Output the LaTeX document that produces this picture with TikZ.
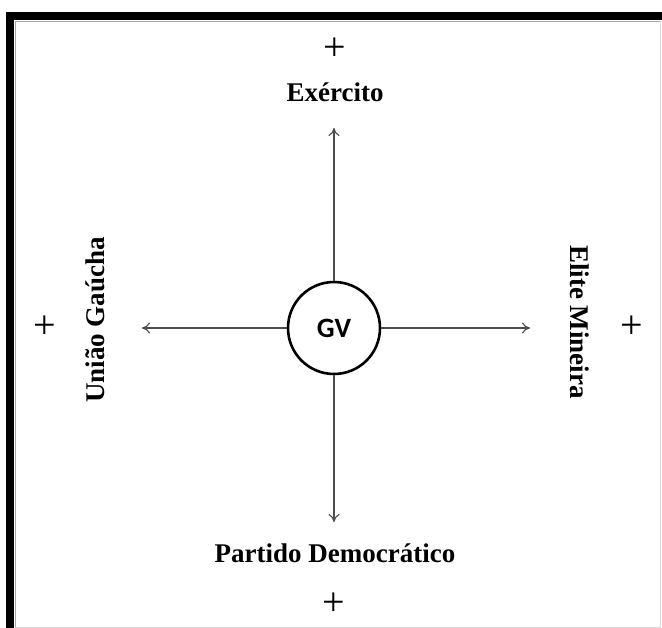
\documentclass[tikz,border=0pt]{standalone}
\usepackage{fontspec}
\setmainfont{Liberation Serif}
\newfontfamily\gvfont{Carlito}
\usetikzlibrary{arrows.meta}
\begin{document}
\begin{tikzpicture}[x=1pt,y=-1pt,
  lbl/.style={font=\fontsize{27}{30}\selectfont\bfseries, inner sep=0pt},
  plus/.style={font=\fontsize{40}{42}\selectfont, inner sep=0pt},
  arr/.style={draw=black!70, line width=1.1pt, -{To[length=8pt,width=11pt]}},
  hub/.style={circle, draw=black, line width=2.6pt, minimum size=92pt, inner sep=0pt,
    font=\gvfont\fontsize{28}{30}\selectfont\bfseries}]
\useasboundingbox (0,0) rectangle (662,628);
\fill[white] (0,0) rectangle (662,628);
% frame
\fill[black] (6,12) rectangle (662,20);
\fill[black] (6,12) rectangle (14,628);
\draw[black!35, line width=0.8pt] (15,21) -- (660,21);
\draw[black!35, line width=0.8pt] (15,21) -- (15,627);
\draw[black!15, line width=0.8pt] (15,627) -- (660,627) -- (660,21);
% hub
\node[hub] (gv) at (334,328) {GV};
\coordinate (tU) at (334,128);
\coordinate (tD) at (334,522);
\coordinate (tL) at (142,328);
\coordinate (tR) at (530,328);
\draw[arr] (gv.north) -- (tU);
\draw[arr] (gv.south) -- (tD);
\draw[arr] (gv.west) -- (tL);
\draw[arr] (gv.east) -- (tR);
% labels
\node[lbl] (ex) at (335,92) {Exército};
\node[lbl] (pd) at (335,553) {Partido Democrático};
\node[lbl, rotate=90] (ug) at (95,320) {União Gaúcha};
\node[lbl, rotate=-90] (em) at (580,322) {Elite Mineira};
% plus signs
\node[plus] (p1) at (335,49) {+};
\node[plus] (p2) at (334,604) {+};
\node[plus] (p3) at (45,327) {+};
\node[plus] (p4) at (632,327) {+};
\end{tikzpicture}
\end{document}
